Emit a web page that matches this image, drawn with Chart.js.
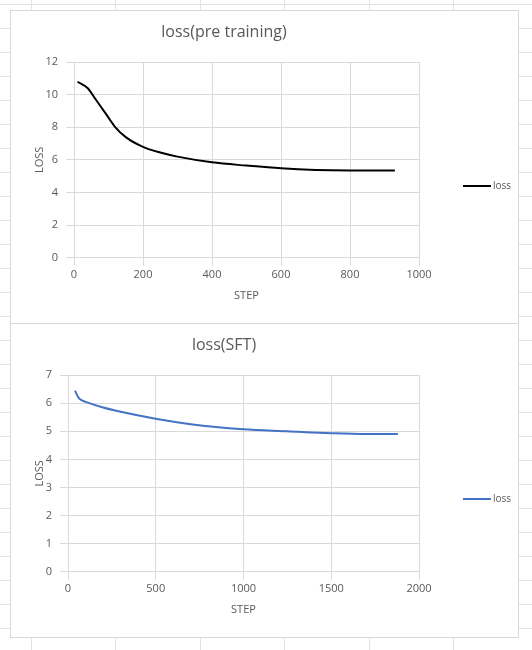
<!DOCTYPE html>
<html lang="en">
<head>
<meta charset="UTF-8">
<title>loss charts</title>
<script src="https://cdn.jsdelivr.net/npm/chart.js@4.4.0/dist/chart.umd.min.js"></script>
<style>
    body {
        margin: 0;
        width: 532px;
        height: 650px;
        position: relative;
        font-family: 'Open Sans', sans-serif;
        background-color: #fff;
        background-image:
            repeating-linear-gradient(to right, transparent 0, transparent 31px, #e2e2e2 31px, #e2e2e2 32px, transparent 32px, transparent 84.4px),
            repeating-linear-gradient(to bottom, transparent 0, transparent 4px, #e2e2e2 4px, #e2e2e2 5px, transparent 5px, transparent 24px);
        overflow: hidden;
    }
    .chart-box {
        position: absolute;
        left: 10px;
        width: 507px;
        background: #fff;
        border: 1px solid #d9d9d9;
    }
    .legend {
        position: absolute;
        left: 452px;
        font-size: 10px;
        color: #595959;
    }
    .legend span {
        display: inline-block;
        width: 28px;
        height: 2px;
        vertical-align: middle;
        margin-right: 2px;
    }
</style>
</head>
<body>
    <div class="chart-box" style="top:10px;height:312px">
        <canvas id="ptChart" width="507" height="312"></canvas>
        <div class="legend" style="top:167px"><span style="background:#000"></span>loss</div>
    </div>
    <div class="chart-box" style="top:323px;height:313px">
        <canvas id="sftChart" width="507" height="313"></canvas>
        <div class="legend" style="top:167px"><span style="background:#4472c4"></span>loss</div>
    </div>

    <script>
        // pre training loss
        const ptSteps = [10, 40, 60, 80, 100, 120, 150, 200, 250, 300, 400, 500, 600, 700, 800, 930];
        const ptLoss = [10.8, 10.4, 9.8, 9.2, 8.6, 8.0, 7.4, 6.8, 6.45, 6.2, 5.85, 5.65, 5.48, 5.38, 5.35, 5.35];

        // SFT loss
        const sftSteps = [40, 60, 80, 100, 200, 300, 500, 700, 1000, 1250, 1500, 1700, 1880];
        const sftLoss = [6.45, 6.2, 6.1, 6.05, 5.85, 5.7, 5.45, 5.25, 5.07, 5.0, 4.93, 4.9, 4.9];

        const gridColor = '#d9d9d9';
        const tickColor = '#595959';

        function createChart(canvasId, title, steps, loss, color, xMax, xStep, yMax, yStep, yWidth) {
            const ctx = document.getElementById(canvasId).getContext('2d');
            return new Chart(ctx, {
                type: 'scatter',
                data: {
                    datasets: [{
                        label: 'loss',
                        data: steps.map((s, i) => ({ x: s, y: loss[i] })),
                        showLine: true,
                        borderColor: color,
                        borderWidth: 2,
                        pointRadius: 0,
                        tension: 0.4,
                        cubicInterpolationMode: 'monotone'
                    }]
                },
                options: {
                    responsive: false,
                    animation: false,
                    layout: { padding: { left: 18, right: 99, top: 0, bottom: 17 } },
                    plugins: {
                        legend: { display: false },
                        title: {
                            display: true, text: title, color: tickColor,
                            font: { family: 'Open Sans', size: 16, weight: 'normal' },
                            padding: { top: 12, bottom: 20 }
                        }
                    },
                    scales: {
                        x: {
                            min: 0, max: xMax,
                            ticks: { stepSize: xStep, color: tickColor, font: { family: 'Open Sans', size: 11 },
                                     callback: (v) => String(v) },
                            grid: { color: gridColor },
                            border: { color: gridColor },
                            title: { display: true, text: 'STEP', color: tickColor, font: { family: 'Open Sans', size: 11 } }
                        },
                        y: {
                            min: 0, max: yMax,
                            ticks: { stepSize: yStep, color: tickColor, padding: 8, font: { family: 'Open Sans', size: 11 } },
                            grid: { color: gridColor },
                            border: { color: gridColor },
                            title: { display: true, text: 'LOSS', color: tickColor, font: { family: 'Open Sans', size: 11 } },
                            afterFit: (scale) => { scale.width = yWidth; }
                        }
                    }
                }
            });
        }

        createChart('ptChart', 'loss(pre training)', ptSteps, ptLoss, '#000000', 1000, 200, 12, 2, 45);
        createChart('sftChart', 'loss(SFT)', sftSteps, sftLoss, '#4472c4', 2000, 500, 7, 1, 39);
    </script>
</body>
</html>
